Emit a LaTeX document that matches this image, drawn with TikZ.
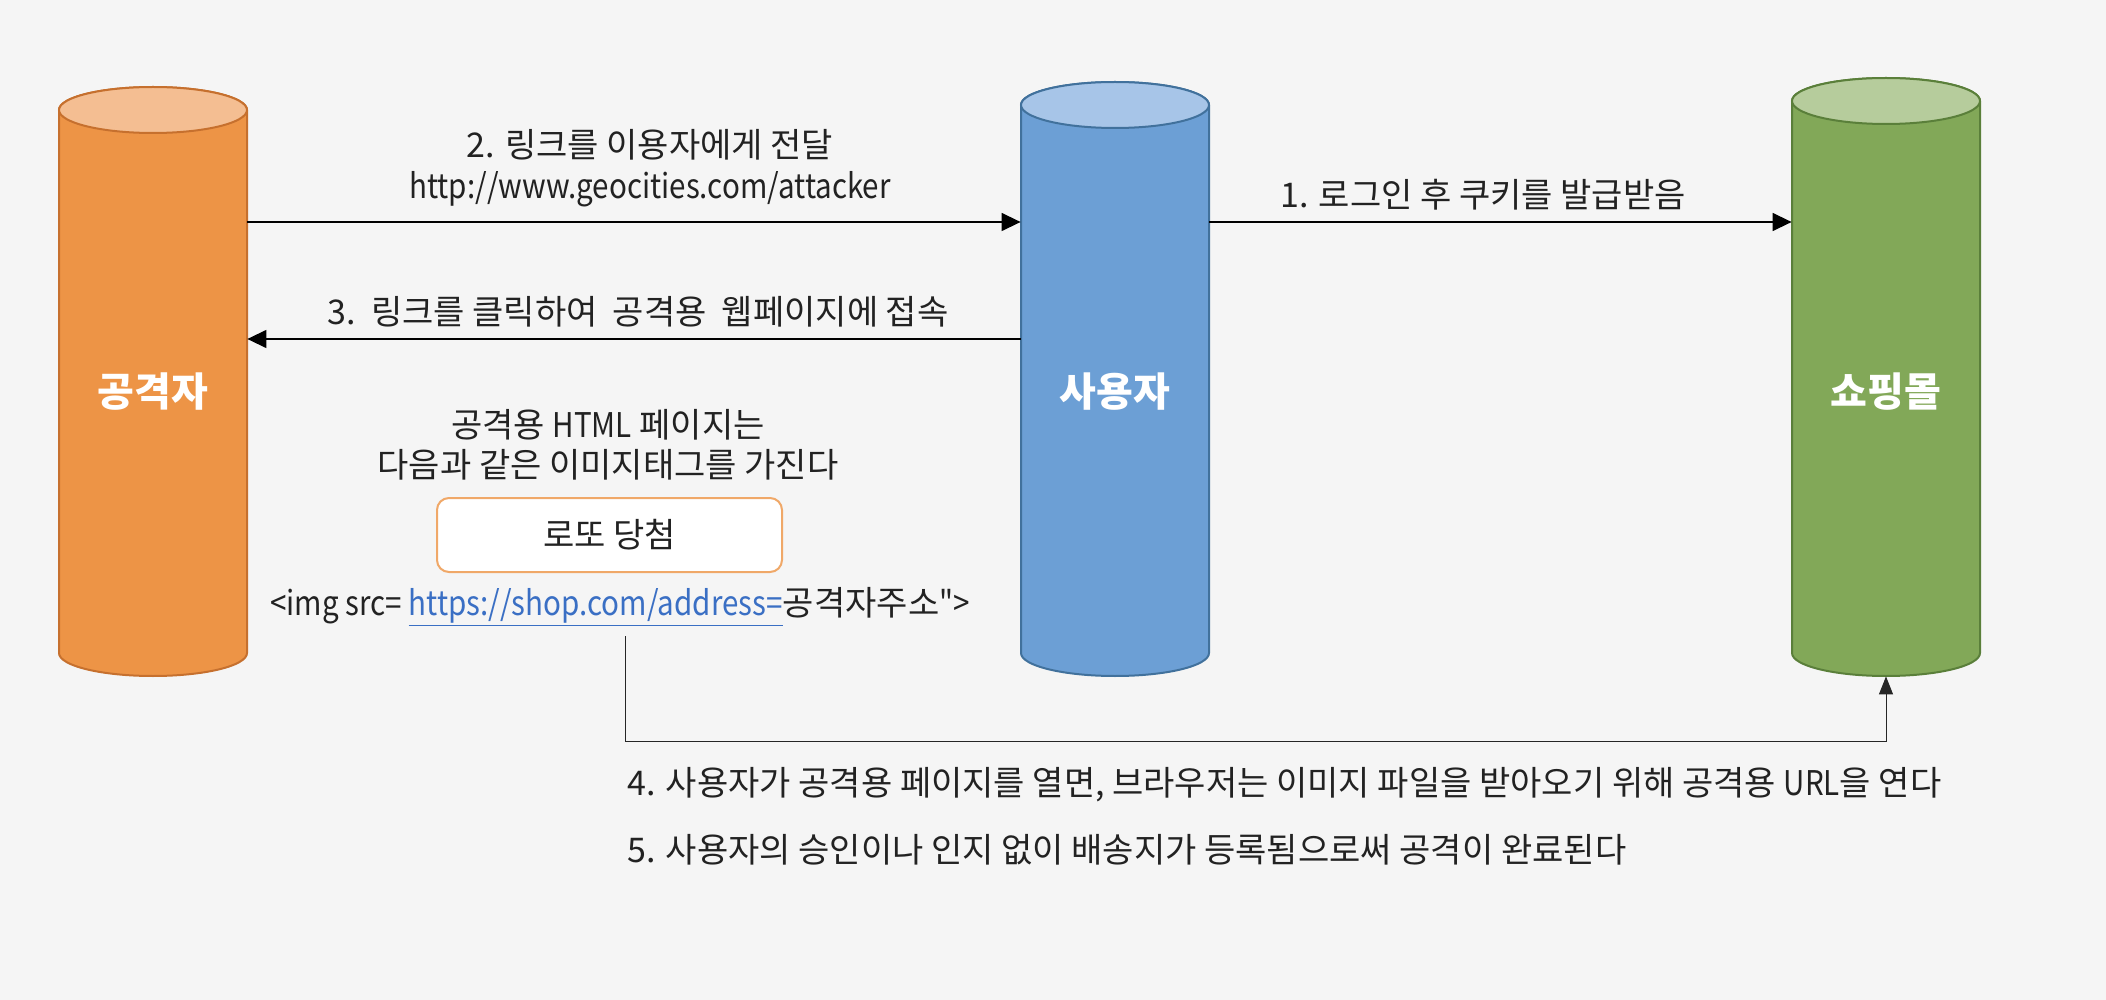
\documentclass[tikz,border=0pt]{standalone}
\usepackage{graphicx}
\usepackage{fontspec}
\setmainfont{Noto Sans CJK KR}[Ligatures=TeXOff]
\usetikzlibrary{arrows.meta}
\definecolor{bg}{HTML}{F5F5F5}
\definecolor{txt}{HTML}{222222}
\definecolor{orBody}{HTML}{ED9446}
\definecolor{orTop}{HTML}{F4BE92}
\definecolor{orLine}{HTML}{C6702E}
\definecolor{blBody}{HTML}{6C9FD5}
\definecolor{blTop}{HTML}{A7C5E8}
\definecolor{blLine}{HTML}{41719C}
\definecolor{grBody}{HTML}{82A858}
\definecolor{grTop}{HTML}{B6CC9C}
\definecolor{grLine}{HTML}{5A7F3A}
\definecolor{lotto}{HTML}{F0A868}
\definecolor{link}{HTML}{3A6FC4}
\newcommand\lat[1]{\scalebox{0.87}[1]{#1}}
\newcommand\mycyl[6]{%
  \draw[fill=#4, draw=#6, line width=1pt] ({#1-94},#2) -- ({#1-94},#3)
    arc[start angle=180,end angle=360,x radius=47pt,y radius=11.5pt]
    -- ({#1+94},#2)
    arc[start angle=0,end angle=180,x radius=47pt,y radius=11.5pt] -- cycle;
  \draw[fill=#5, draw=#6, line width=1pt] (#1,#2) ellipse[x radius=47pt, y radius=11.5pt];}
\tikzset{
  body/.style={inner sep=0pt, minimum width=94pt, minimum height=#1},
  cyllabel/.style={text=white, font=\fontsize{20}{24}\selectfont\bfseries},
  lbl/.style={text=txt, font=\fontsize{17}{18}\selectfont, inner sep=0pt},
  arr/.style={-{Triangle[length=9.5pt,width=9pt]}, line width=0.7pt, draw=black},
  arrthin/.style={-{Triangle[length=9pt,width=7pt]}, line width=0.5pt, draw=black!85},
  lottobox/.style={draw=lotto, line width=1pt, fill=white, rounded corners=6pt,
    minimum width=172.5pt, minimum height=37pt, text=txt, font=\fontsize{17}{20}\selectfont}
}
\begin{document}
\begin{tikzpicture}[x=0.5pt,y=-0.5pt]
\fill[bg] (0,0) rectangle (2106,1000);
\useasboundingbox (0,0) rectangle (2106,1000);
% cylinders
\mycyl{153}{110}{653}{orBody}{orTop}{orLine}
\mycyl{1115}{105}{653}{blBody}{blTop}{blLine}
\mycyl{1886}{101}{653}{grBody}{grTop}{grLine}
\node[body=294.5pt] (att) at (153,381.5) {};
\node[body=296.5pt] (usr) at (1115,379.5) {};
\node[body=298.5pt] (shop) at (1886,377.5) {};
\node[cyllabel] (attl) at (153,392) {공격자};
\node[cyllabel] (usrl) at (1115,392) {사용자};
\node[cyllabel] (shopl) at (1886,392) {쇼핑몰};
% arrows
\coordinate (y2) at (0,222);
\coordinate (y3) at (0,339);
\draw[arr] (att.east |- y2) -- (usr.west |- y2);
\draw[arr] (usr.west |- y3) -- (att.east |- y3);
\draw[arr] (usr.east |- y2) -- (shop.west |- y2);
% labels
\node[lbl, align=center] (t2) at (650,168) {2. 링크를 이용자에게 전달\\[2.5pt]\lat{http://www.geocities.com/attacker}};
\node[lbl] (t1) at (1483,195) {1. 로그인 후 쿠키를 발급받음};
\node[lbl] (t3) at (638,312) {3.\ \ 링크를 클릭하여\ \ 공격용\ \ 웹페이지에 접속};
\node[lbl, align=center] (html) at (608,445) {공격용 \lat{HTML} 페이지는\\[2pt]다음과 같은 이미지태그를 가진다};
\node[lottobox] (lotto) at (609.5,535) {로또 당첨};
\node[lbl] (img) at (620,607) {\lat{<img src= }{\color{link}\underline{\lat{https://shop.com/address=}}}공격자주소\lat{">}};
% connector 4
\coordinate (c4) at (625,636);
\coordinate (bend) at (0,741);
\draw[arrthin] (c4) -- (c4 |- bend) -| (shop.south);
\node[lbl, anchor=west] (t4) at (627,785) {4. 사용자가 공격용 페이지를 열면, 브라우저는 이미지 파일을 받아오기 위해 공격용 \lat{URL}을 연다};
\node[lbl, anchor=west] (t5) at (627,850) {5. 사용자의 승인이나 인지 없이 배송지가 등록됨으로써 공격이 완료된다};
\end{tikzpicture}
\end{document}
